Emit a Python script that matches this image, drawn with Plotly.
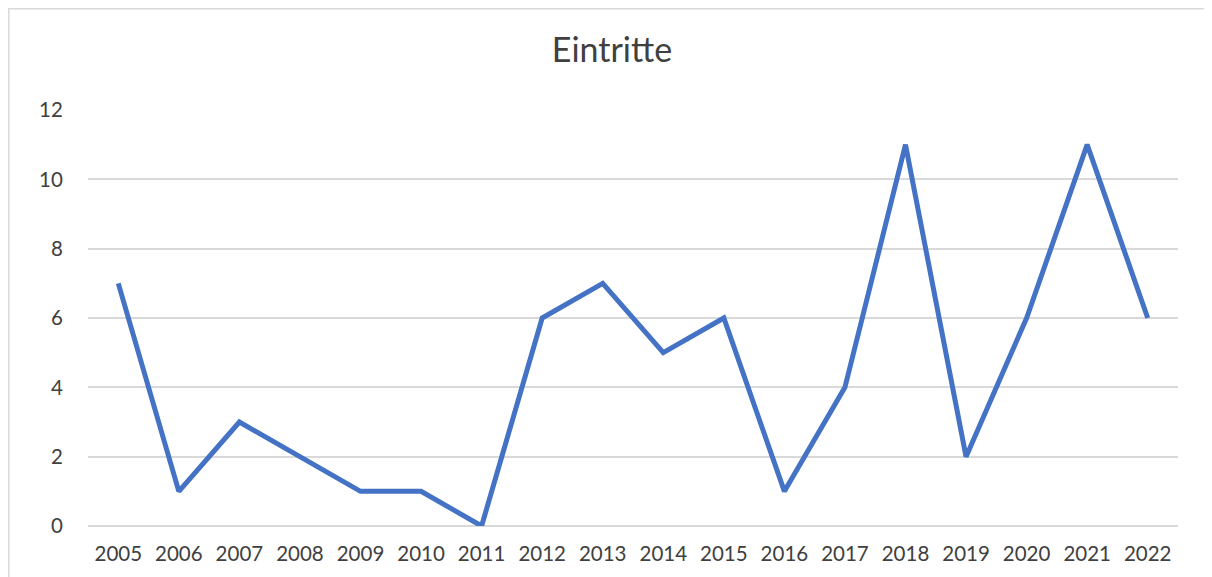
import plotly.graph_objects as go

years = [str(y) for y in range(2005, 2023)]
values = [7, 1, 3, 2, 1, 1, 0, 6, 7, 5, 6, 1, 4, 11, 2, 6, 11, 6]
title_text = "Eintritte"

# page shows the figure offset by the 8px body margin
OFF = 8
W, H = 1212, 577
L, R, T, B = 88 - OFF, 34 + OFF, 110 - OFF, 51 + OFF
pw, ph = W - L - R, H - T - B

def px_x(p):
    return (p - L) / pw

def px_y(p):
    return (H - B - p) / ph

fig = go.Figure()
fig.add_trace(go.Scatter(
    x=years, y=values, mode="lines",
    line=dict(color="#4472C4", width=5),
    hoverinfo="x+y",
))

font_family = "Lato, 'Open Sans', 'DejaVu Sans', sans-serif"

fig.update_layout(
    width=W, height=H,
    margin=dict(l=L, r=R, t=T, b=B),
    paper_bgcolor="white", plot_bgcolor="white",
    showlegend=False,
    title=dict(text=title_text, x=(612 - OFF) / W, xanchor="center",
               y=1 - (50 - OFF) / H, yanchor="middle",
               font=dict(family=font_family, size=34, color="#404040")),
    xaxis=dict(
        type="category", range=[-0.5, 17.5], showgrid=False, zeroline=False,
        showline=False, ticks="outside", ticklen=9, tickcolor="rgba(0,0,0,0)",
        tickfont=dict(family=font_family, size=20.5, color="#404040"),
    ),
    yaxis=dict(
        range=[0, 12], dtick=2, showgrid=True, gridcolor="#d9d9d9", gridwidth=1.5,
        zeroline=True, zerolinecolor="#d9d9d9", zerolinewidth=1.5, showline=False,
        ticks="outside", ticklen=20, tickcolor="rgba(0,0,0,0)",
        tickfont=dict(family=font_family, size=20.5, color="#404040"),
    ),
    shapes=[
        dict(type="line", xref="paper", yref="paper",
             x0=px_x(0.8), x1=px_x(0.8), y0=px_y(0), y1=px_y(620),
             line=dict(color="#d9d9d9", width=1.5)),
        dict(type="line", xref="paper", yref="paper",
             x0=px_x(0), x1=px_x(1203), y0=px_y(0.8), y1=px_y(0.8),
             line=dict(color="#d9d9d9", width=1.5)),
    ],
)

fig.write_html("out.html")
